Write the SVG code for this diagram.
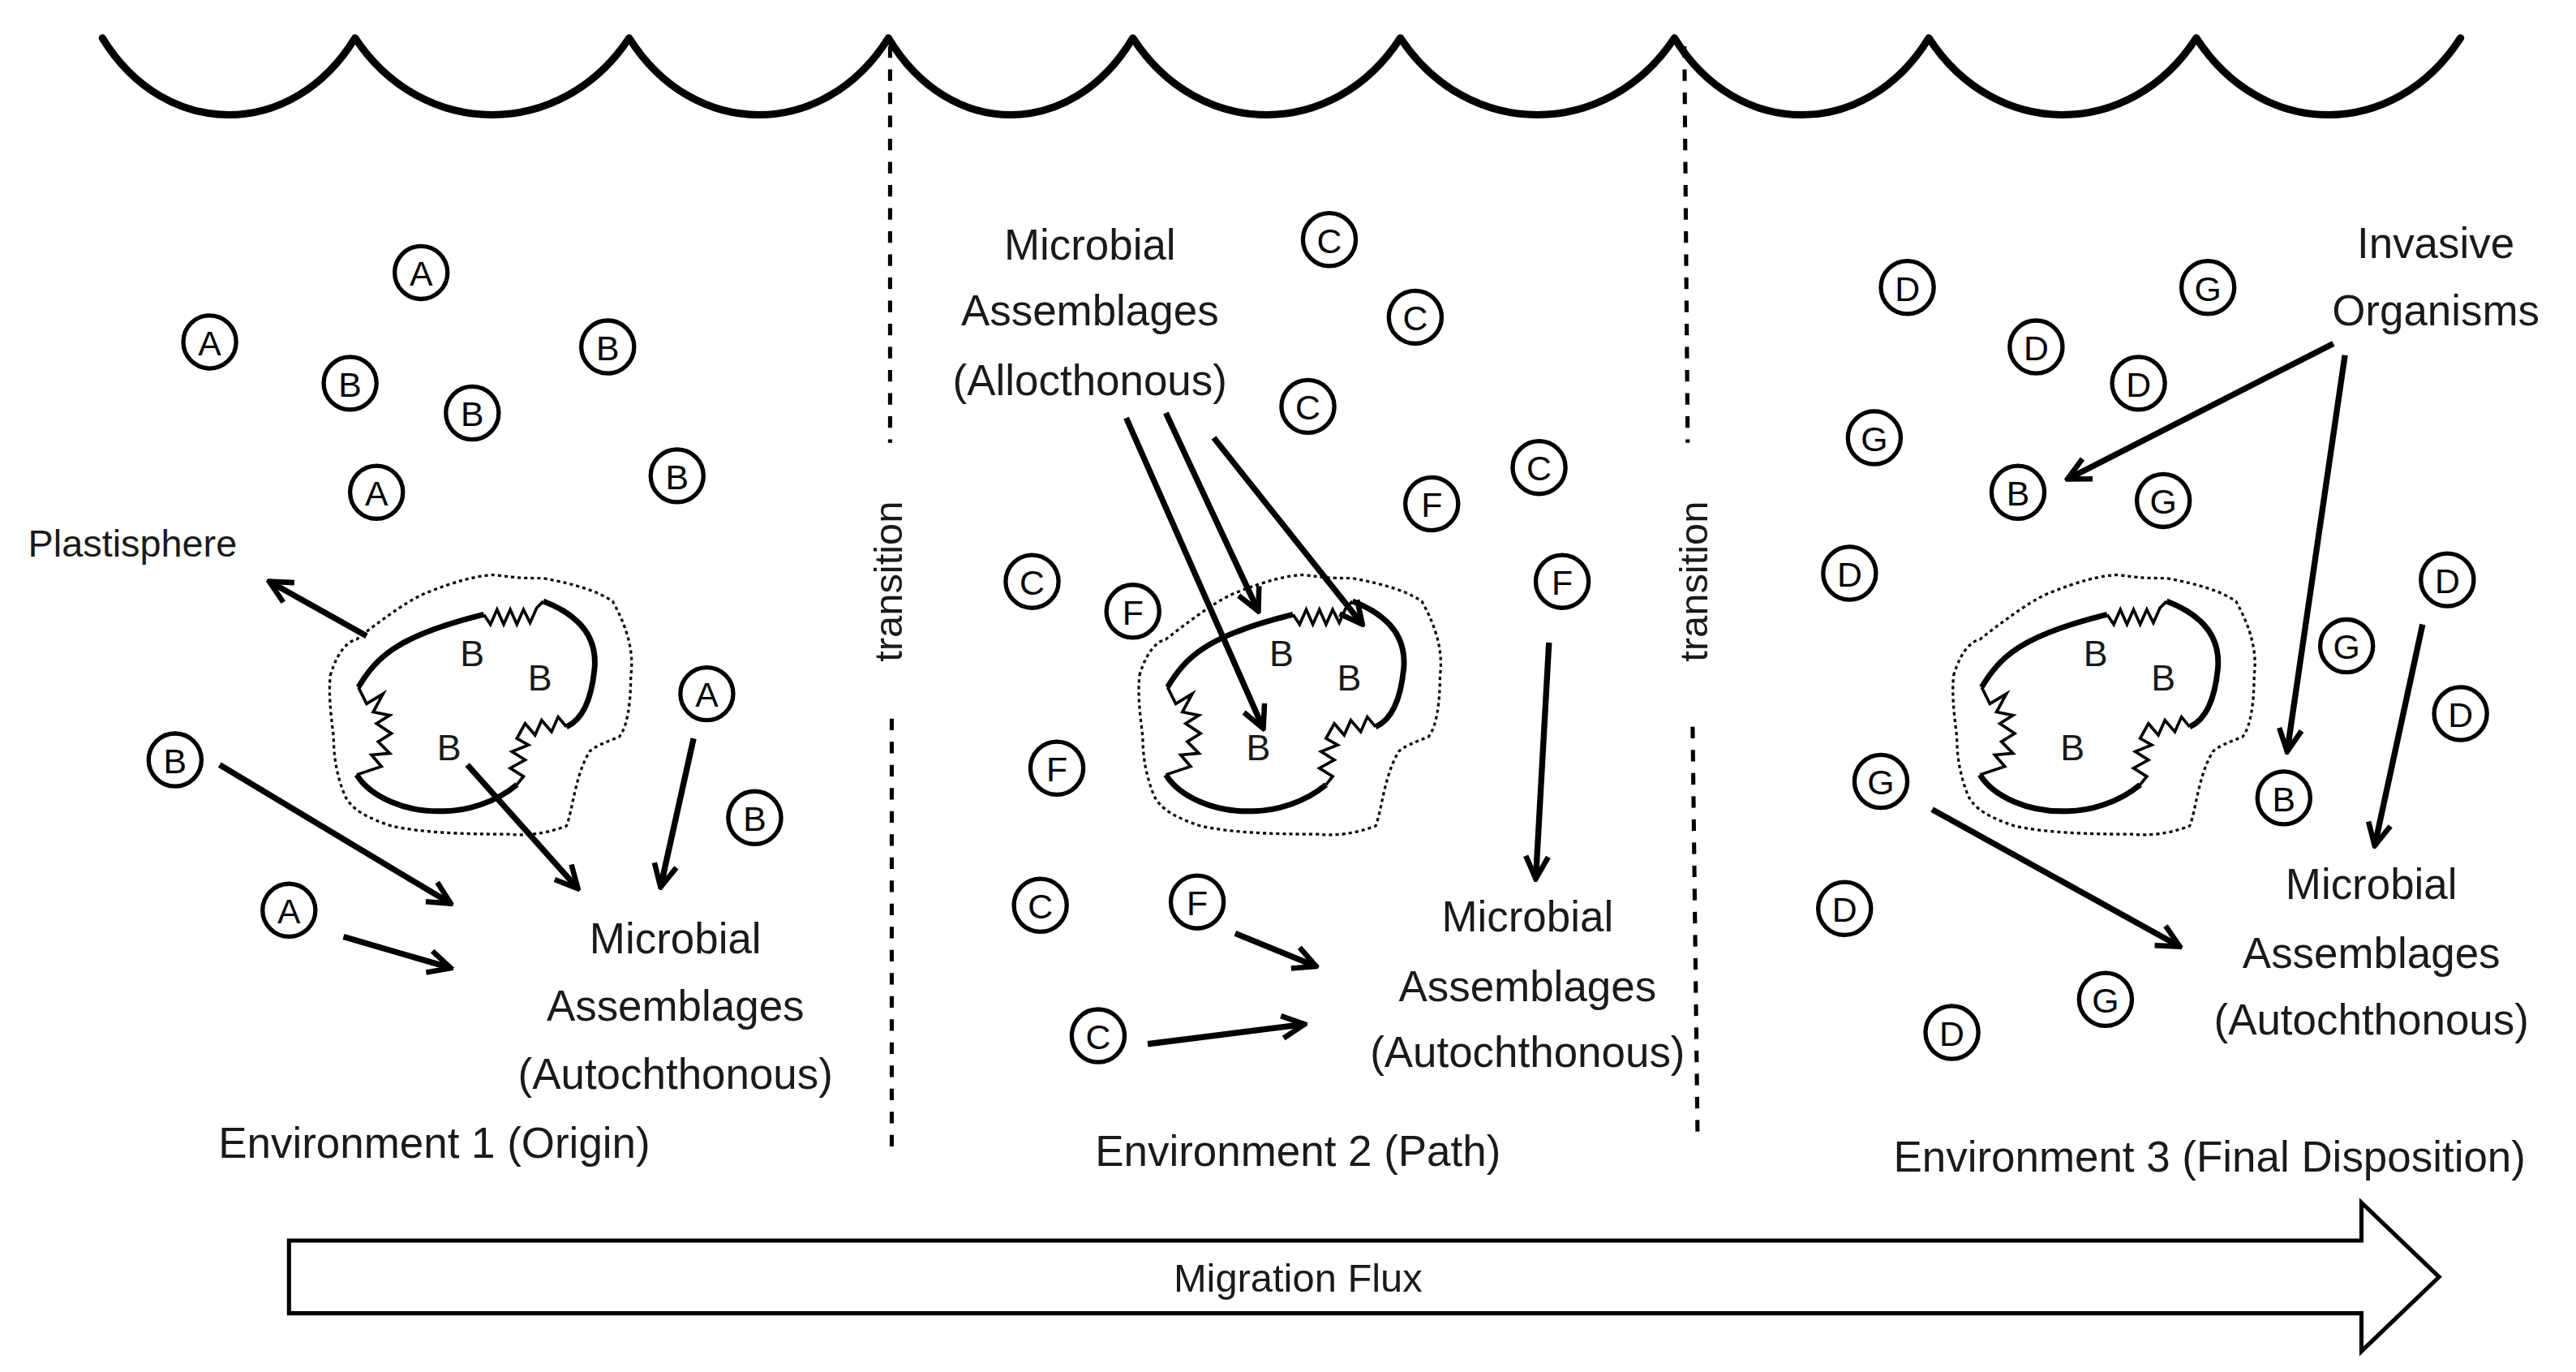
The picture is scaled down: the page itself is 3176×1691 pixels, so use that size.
<svg xmlns="http://www.w3.org/2000/svg" width="3176" height="1691" viewBox="0 0 3176 1691">
<style>
.t{font-family:"Liberation Sans",Arial,sans-serif;font-size:26px;fill:#1a1a1a;text-anchor:middle}
.c circle{fill:#fff;stroke:#000;stroke-width:2.6}
.c text{font-family:"Liberation Sans",Arial,sans-serif;font-size:21px;text-anchor:middle;fill:#000}
.a{stroke:#000;stroke-width:3.6;fill:none;marker-end:url(#ah)}
.dash{stroke:#000;stroke-width:2.5;stroke-dasharray:7,7;fill:none}
</style>
<defs>
<marker id="ah" viewBox="0 0 10 10" refX="9" refY="5" markerWidth="17" markerHeight="17" markerUnits="userSpaceOnUse" orient="auto"><path d="M1,1 L9,5 L1,9" fill="none" stroke="#000" stroke-width="1.9"/></marker>
<g id="blob">
<path d="M200,409 C205,392 212,388 216,387 C235,372 250,362 258,359 C275,352 290,348 300,348 C312,350 320,350 329,350 C350,354 362,358 371,364 C380,380 384,395 382,409 C382,425 380,440 375,446 C365,450 360,452 357,455 C348,470 347,490 343,500 C330,505 318,506 308,505 C280,505 255,504 237,500 C222,495 213,490 209,482 C204,470 202,458 202,446 C200,430 199,420 200,409 Z" fill="none" stroke="#000" stroke-width="1.6" stroke-dasharray="2,2"/>
<path d="M217,416 C228,398 240,385 293,372" fill="none" stroke="#000" stroke-width="3.4"/>
<polyline points="293,372 297,378 301,369 305,378 309,369 313,378 317,369 321,377 325,368 329,364" fill="none" stroke="#000" stroke-width="1.8"/>
<path d="M329,364 C350,372 362,385 360,405 C358,425 352,436 343,440" fill="none" stroke="#000" stroke-width="3.4"/>
<polyline points="343,440 338,434 334,443 328,436 324,445 318,438 313,447 320,451 310,455 318,460 309,465 317,470 313,475" fill="none" stroke="#000" stroke-width="1.8"/>
<path d="M313,475 C300,486 282,491 269,491 C245,492 224,482 216,469" fill="none" stroke="#000" stroke-width="3.4"/>
<polyline points="217,416 222,426 232,420 226,431 236,433 228,438 237,444 229,449 236,456 225,457 231,464 216,469" fill="none" stroke="#000" stroke-width="1.8"/>
<text x="286" y="403" class="t" style="font-size:22px">B</text>
<text x="327" y="418" class="t" style="font-size:22px">B</text>
<text x="272" y="460" class="t" style="font-size:22px">B</text>
</g>
</defs>
<rect width="3176" height="1691" fill="#fff"/>
<g transform="scale(2.036)">
<g id="waves">
<path d="M62,23 C100,85 177,85 215,23 C256,85 340,85 381,23 C420,85 499,85 538,23 C575,85 649,85 686,23 C726,85 808,85 848,23 C889,85 973,85 1014,23 C1052,85 1130,85 1168,23 C1208,85 1290,85 1330,23 C1370,85 1450,85 1490,23" fill="none" stroke="#000" stroke-width="4.5" stroke-linejoin="round" stroke-linecap="round"/>
</g>
<g id="transitions">
<line class="dash" x1="539" y1="28" x2="539" y2="268"/>
<line class="dash" x1="540" y1="435" x2="540" y2="698"/>
<text class="t" transform="translate(546,352) rotate(-90)" style="font-size:24px">transition</text>
<line class="dash" x1="1020" y1="28" x2="1022" y2="268"/>
<line class="dash" x1="1025" y1="440" x2="1028" y2="690"/>
<text class="t" transform="translate(1034,352) rotate(-90)" style="font-size:24px">transition</text>
</g>
<g id="plastics">
<use href="#blob"/>
<use href="#blob" transform="translate(490,0)"/>
<use href="#blob" transform="translate(983,0)"/>
</g>
<g id="env1" class="c">
<circle cx="255" cy="165" r="16"/><text x="255" y="173">A</text>
<circle cx="127" cy="207" r="16"/><text x="127" y="215">A</text>
<circle cx="212" cy="232" r="16"/><text x="212" y="240">B</text>
<circle cx="286" cy="250" r="16"/><text x="286" y="258">B</text>
<circle cx="368" cy="210" r="16"/><text x="368" y="218">B</text>
<circle cx="228" cy="298" r="16"/><text x="228" y="306">A</text>
<circle cx="410" cy="288" r="16"/><text x="410" y="296">B</text>
<circle cx="428" cy="420" r="16"/><text x="428" y="428">A</text>
<circle cx="457" cy="495" r="16"/><text x="457" y="503">B</text>
<circle cx="106" cy="460" r="16"/><text x="106" y="468">B</text>
<circle cx="175" cy="551" r="16"/><text x="175" y="559">A</text>
</g>
<g id="env2" class="c">
<circle cx="805" cy="145" r="16"/><text x="805" y="153">C</text>
<circle cx="857" cy="192" r="16"/><text x="857" y="200">C</text>
<circle cx="792" cy="246" r="16"/><text x="792" y="254">C</text>
<circle cx="932" cy="283" r="16"/><text x="932" y="291">C</text>
<circle cx="867" cy="305" r="16"/><text x="867" y="313">F</text>
<circle cx="946" cy="352" r="16"/><text x="946" y="360">F</text>
<circle cx="625" cy="352" r="16"/><text x="625" y="360">C</text>
<circle cx="686" cy="370" r="16"/><text x="686" y="378">F</text>
<circle cx="640" cy="465" r="16"/><text x="640" y="473">F</text>
<circle cx="630" cy="548" r="16"/><text x="630" y="556">C</text>
<circle cx="725" cy="546" r="16"/><text x="725" y="554">F</text>
<circle cx="665" cy="627" r="16"/><text x="665" y="635">C</text>
</g>
<g id="env3" class="c">
<circle cx="1155" cy="174" r="16"/><text x="1155" y="182">D</text>
<circle cx="1337" cy="174" r="16"/><text x="1337" y="182">G</text>
<circle cx="1233" cy="210" r="16"/><text x="1233" y="218">D</text>
<circle cx="1295" cy="232" r="16"/><text x="1295" y="240">D</text>
<circle cx="1135" cy="265" r="16"/><text x="1135" y="273">G</text>
<circle cx="1222" cy="298" r="16"/><text x="1222" y="306">B</text>
<circle cx="1310" cy="303" r="16"/><text x="1310" y="311">G</text>
<circle cx="1120" cy="347" r="16"/><text x="1120" y="355">D</text>
<circle cx="1482" cy="351" r="16"/><text x="1482" y="359">D</text>
<circle cx="1421" cy="391" r="16"/><text x="1421" y="399">G</text>
<circle cx="1490" cy="432" r="16"/><text x="1490" y="440">D</text>
<circle cx="1139" cy="473" r="16"/><text x="1139" y="481">G</text>
<circle cx="1383" cy="483" r="16"/><text x="1383" y="491">B</text>
<circle cx="1117" cy="550" r="16"/><text x="1117" y="558">D</text>
<circle cx="1275" cy="605" r="16"/><text x="1275" y="613">G</text>
<circle cx="1182" cy="625" r="16"/><text x="1182" y="633">D</text>
</g>
<g id="labels">
<text class="t" x="17" y="337" style="text-anchor:start;font-size:23px">Plastisphere</text>
<text class="t" x="409" y="577">Microbial</text>
<text class="t" x="409" y="618">Assemblages</text>
<text class="t" x="409" y="659">(Autochthonous)</text>
<text class="t" x="660" y="157">Microbial</text>
<text class="t" x="660" y="197">Assemblages</text>
<text class="t" x="660" y="239">(Allocthonous)</text>
<text class="t" x="925" y="564">Microbial</text>
<text class="t" x="925" y="606">Assemblages</text>
<text class="t" x="925" y="646">(Autochthonous)</text>
<text class="t" x="1475" y="156">Invasive</text>
<text class="t" x="1475" y="197">Organisms</text>
<text class="t" x="1436" y="544">Microbial</text>
<text class="t" x="1436" y="586">Assemblages</text>
<text class="t" x="1436" y="626">(Autochthonous)</text>
<text class="t" x="263" y="701">Environment 1 (Origin)</text>
<text class="t" x="786" y="706">Environment 2 (Path)</text>
<text class="t" x="1338" y="709">Environment 3 (Final Disposition)</text>
</g>
<g id="connectors">
<line class="a" x1="222" y1="385" x2="163" y2="352"/>
<line class="a" x1="133" y1="463" x2="273" y2="547"/>
<line class="a" x1="208" y1="567" x2="273" y2="586"/>
<line class="a" x1="283" y1="463" x2="350" y2="538"/>
<line class="a" x1="420" y1="447" x2="400" y2="537"/>
<line class="a" x1="682" y1="253" x2="765" y2="441"/>
<line class="a" x1="706" y1="250" x2="762" y2="370"/>
<line class="a" x1="735" y1="265" x2="825" y2="378"/>
<line class="a" x1="938" y1="389" x2="930" y2="532"/>
<line class="a" x1="748" y1="565" x2="797" y2="585"/>
<line class="a" x1="695" y1="632" x2="790" y2="620"/>
<line class="a" x1="1413" y1="208" x2="1252" y2="290"/>
<line class="a" x1="1420" y1="215" x2="1385" y2="455"/>
<line class="a" x1="1467" y1="378" x2="1438" y2="512"/>
<line class="a" x1="1170" y1="490" x2="1320" y2="573"/>
</g>
<g id="flux">
<path d="M175,751 L1430,751 L1430,728 L1477,773 L1430,818 L1430,795 L175,795 Z" fill="#fff" stroke="#000" stroke-width="2.5"/>
<text class="t" x="786" y="782" style="font-size:24px">Migration Flux</text>
</g>
</g>
</svg>
